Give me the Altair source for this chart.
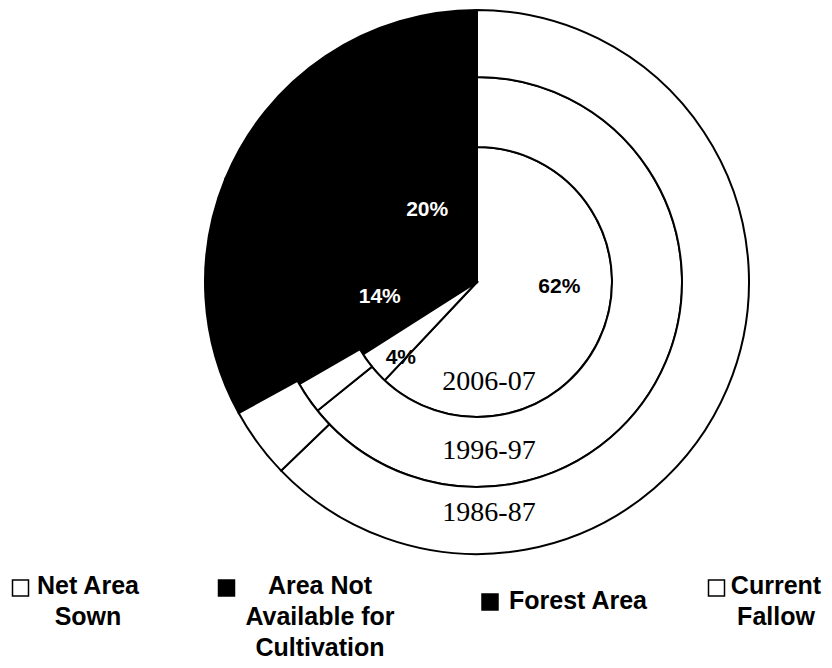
import altair as alt
import pandas as pd

# ---------------- data ----------------
years = ["2006-07", "1996-97", "1986-87"]
categories = ["Net Area Sown", "Area Not Available for Cultivation", "Forest Area", "Current Fallow"]
clockwise = ["Net Area Sown", "Current Fallow", "Area Not Available for Cultivation", "Forest Area"]
net_area_sown = [62, 64.2, 62.8]
area_not_available = [14, 14.0, 14.2]
forest_area = [20, 19.3, 18.8]
current_fallow = [4, 2.5, 4.2]
legend_labels = ["Net Area\nSown", "Area Not\nAvailable for\nCultivation", "Forest Area", "Current\nFallow"]
fills = ["white", "black", "black", "white"]

series = [net_area_sown, area_not_available, forest_area, current_fallow]
rows = []
for i, yr in enumerate(years):
    for cat, vals in zip(categories, series):
        rows.append({"year": yr, "category": cat, "value": vals[i], "order": clockwise.index(cat)})
df = pd.DataFrame(rows)

# ---------------- layout constants ----------------
CX, CY = 469, 274
ring_radii = {"2006-07": (0, 135), "1996-97": (135, 205), "1986-87": (205, 272)}
label_offsets = {
    "Net Area Sown": (-6, -30),
    "Current Fallow": (-3, 15),
    "Area Not Available for Cultivation": (-3, 3),
    "Forest Area": (6, 5),
}
year_label_dy = [100, 169, 231]
legend_text_x = [80, 312, 570, 768]
legend_text_y = [586, 586, 601, 586]
legend_sq_x = [12.5, 218.5, 482, 708.5]
legend_sq_y = [580, 580, 594, 580]

fill_scale = alt.Scale(domain=categories, range=fills)
layers = []

# rings
for yr in years:
    r_in, r_out = ring_radii[yr]
    arc = alt.Chart(df[df.year == yr]).mark_arc(
        radius=r_out, radius2=r_in, stroke="black", strokeWidth=2
    ).encode(
        theta=alt.Theta("value:Q", stack=True),
        order=alt.Order("order:Q"),
        fill=alt.Fill("category:N", scale=fill_scale, legend=None),
        x=alt.value(CX),
        y=alt.value(CY),
    )
    layers.append(arc)

# percentage labels on inner pie
inner = df[df.year == "2006-07"]
dark_test = "datum.category == 'Forest Area' || datum.category == 'Area Not Available for Cultivation'"
for cat in categories:
    dx, dy = label_offsets[cat]
    t = alt.Chart(inner).transform_calculate(
        label="format(datum.value, 'd') + '%'"
    ).mark_text(
        radius=95, dx=dx, dy=dy, font="Liberation Sans", fontWeight="bold", fontSize=21,
        align="center", baseline="middle"
    ).encode(
        theta=alt.Theta("value:Q", stack=True),
        order=alt.Order("order:Q"),
        text=alt.condition(f"datum.category == '{cat}'", alt.Text("label:N"), alt.value("")),
        color=alt.condition(dark_test, alt.value("white"), alt.value("black")),
        x=alt.value(CX),
        y=alt.value(CY),
    )
    layers.append(t)

# year labels
year_df = pd.DataFrame({"year": years})
for yr, dy in zip(years, year_label_dy):
    t = alt.Chart(year_df[year_df.year == yr]).mark_text(
        font="Liberation Serif", fontSize=28, dx=12, dy=dy, align="center", baseline="middle",
        color="black"
    ).encode(text="year:N", x=alt.value(CX), y=alt.value(CY))
    layers.append(t)

# legend
leg_df = pd.DataFrame({"category": categories, "label": legend_labels})
for i, cat in enumerate(categories):
    sub = leg_df[leg_df.category == cat]
    sq = alt.Chart(sub).mark_square(size=256, stroke="black", strokeWidth=1.5, opacity=1).encode(
        fill=alt.Fill("category:N", scale=fill_scale, legend=None),
        x=alt.value(legend_sq_x[i]),
        y=alt.value(legend_sq_y[i]),
    )
    tx = alt.Chart(sub).mark_text(
        font="Liberation Sans", fontWeight="bold", fontSize=25, lineBreak="\n", lineHeight=31,
        align="center", baseline="alphabetic", color="black"
    ).encode(text="label:N", x=alt.value(legend_text_x[i]), y=alt.value(legend_text_y[i]))
    layers.append(sq)
    layers.append(tx)

chart = alt.layer(*layers).resolve_scale(theta="independent").properties(
    width=816, height=652, padding=0, autosize=alt.AutoSizeParams(type="none"), background="white"
).configure_view(stroke=None)

chart.save("out.html", embed_options={"renderer": "svg", "actions": False})
